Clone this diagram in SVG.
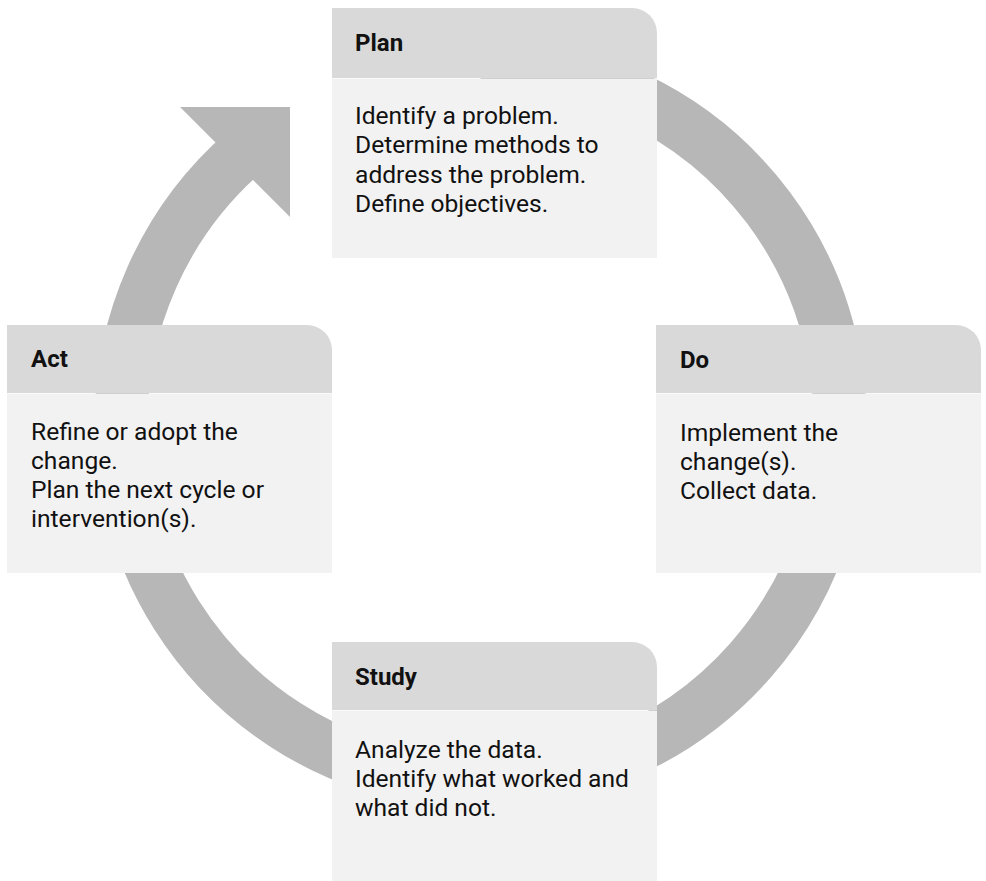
<svg xmlns="http://www.w3.org/2000/svg" width="986" height="881" viewBox="0 0 986 881">
<style>
.hd{fill:#d9d9d9}
.bd{fill:#f2f2f2}
.ring{fill:none;stroke:#b7b7b7;stroke-width:53}
.head{fill:#b7b7b7}
.t{font-family:Roboto,"Liberation Sans",sans-serif;font-weight:bold;font-size:24px;fill:#111}
.b{font-family:Roboto,"Liberation Sans",sans-serif;font-size:24.6px;fill:#111}
</style>
<rect width="986" height="881" fill="#fff"/>
<g id="connectors">
<path class="ring" d="M480.5,63.5 A359.5,359.5 0 1 1 244.65,151.68"/>
<polygon class="head" points="180,107 290,107 290,217"/>
</g>
<g id="plan">
<path class="hd" d="M332,8 H632 A25,25 0 0 1 657,33 V78 H332 Z"/>
<rect class="bd" x="332" y="78.6" width="325" height="179.4"/>
<text class="t" x="355" y="51">Plan</text>
<text class="b"><tspan x="355" y="124.3">Identify a problem.</tspan><tspan x="355" y="153.4">Determine methods to</tspan><tspan x="355" y="182.5">address the problem.</tspan><tspan x="355" y="211.6">Define objectives.</tspan></text>
</g>
<g id="do">
<path class="hd" d="M656,325 H956 A25,25 0 0 1 981,350 V393 H656 Z"/>
<rect class="bd" x="656" y="393.6" width="325" height="179.4"/>
<text class="t" x="680" y="368">Do</text>
<text class="b"><tspan x="680" y="441">Implement the</tspan><tspan x="680" y="470">change(s).</tspan><tspan x="680" y="499">Collect data.</tspan></text>
</g>
<g id="study">
<path class="hd" d="M332,642 H632 A25,25 0 0 1 657,667 V710 H332 Z"/>
<rect class="bd" x="332" y="710.6" width="325" height="171"/>
<text class="t" x="355" y="685">Study</text>
<text class="b"><tspan x="355" y="758">Analyze the data.</tspan><tspan x="355" y="787">Identify what worked and</tspan><tspan x="355" y="816">what did not.</tspan></text>
</g>
<g id="act">
<path class="hd" d="M7,325 H307 A25,25 0 0 1 332,350 V393 H7 Z"/>
<rect class="bd" x="7" y="393.6" width="325" height="179.4"/>
<text class="t" x="31" y="367">Act</text>
<text class="b"><tspan x="31" y="440">Refine or adopt the</tspan><tspan x="31" y="469">change.</tspan><tspan x="31" y="498">Plan the next cycle or</tspan><tspan x="31" y="527">intervention(s).</tspan></text>
</g>
</svg>
